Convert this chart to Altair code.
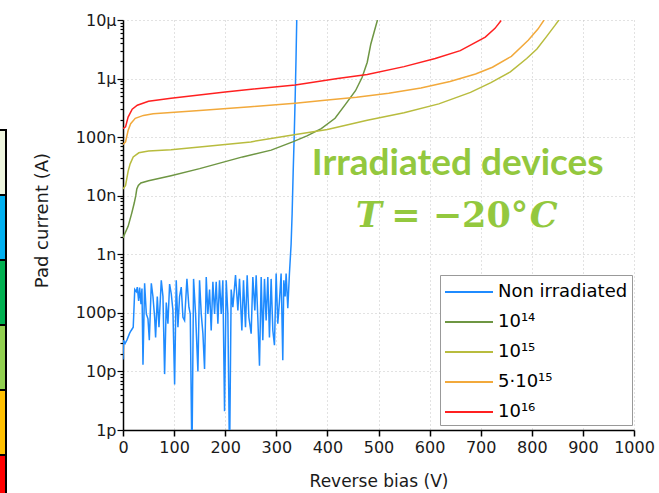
import altair as alt
import pandas as pd

# ---------------- data ----------------
series_names = ["Non irradiated", "10¹⁴", "10¹⁵", "5·10¹⁵", "10¹⁶"]
series_colors = ["#1F8BFF", "#6E9643", "#B8BC3E", "#F2A93B", "#FF2020"]

non_irradiated = [
    (0, 1.6e-11), (1, 3.4e-11), (4, 3.0e-11), (8, 3.5e-11), (13, 4.5e-11), (16, 5.0e-11),
    (20, 5.7e-11), (23, 2.5e-10), (26, 2.3e-10), (28, 2.75e-10), (30.6, 1.6e-10),
    (32.6, 2.7e-10), (35.2, 1.4e-10), (37.1, 2.6e-10), (39.1, 1.3e-11), (42.3, 3.2e-10),
    (45.6, 9.6e-11), (48.9, 7.9e-11), (51.5, 3.4e-11), (55.4, 3.2e-10), (58.6, 1.9e-10),
    (61.9, 8.4e-11), (63.8, 3.8e-11), (67.1, 1.9e-10), (70.4, 5.7e-11), (74.9, 3.6e-10),
    (78.2, 1.9e-10), (81.4, 9e-12), (84.7, 1.5e-10), (87.9, 6.5e-11), (91.2, 3.1e-10),
    (94.5, 2.1e-10), (97.7, 1.1e-10), (101, 6e-12), (104.2, 3.6e-10), (107.5, 5.7e-11),
    (110.7, 1.9e-10), (114, 2.75e-10), (117.3, 8.4e-11), (120.5, 7.4e-11), (125.1, 3.8e-10),
    (129, 1.25e-10), (131.6, 9.6e-11), (134.9, 3e-13), (138.1, 3.8e-10), (142, 9.6e-11),
    (146.6, 1e-11), (149.8, 3.6e-10), (153.1, 9.6e-11), (156.4, 4.4e-11), (159.6, 1.1e-11),
    (162.9, 4.1e-10), (166.1, 9.6e-11), (169.4, 2.5e-10), (172.6, 5e-11), (175.9, 3.4e-10),
    (179.2, 9.6e-11), (182.4, 3.4e-10), (185.7, 6.5e-11), (188.9, 3.6e-10), (192.2, 9.6e-11),
    (195.4, 3.6e-10), (198.7, 2.1e-12), (202, 3.6e-10), (205.2, 9.6e-11), (208.5, 3e-13),
    (211.7, 2.5e-10), (215, 1.25e-10), (220.2, 4.4e-10), (224.8, 1.1e-10), (228, 3.8e-10),
    (232.6, 5e-11), (235.8, 3.6e-10), (239.7, 5.7e-11), (243, 4.4e-10), (246.3, 8.4e-11),
    (250.8, 4.4e-11), (254.1, 4.1e-10), (258, 1.1e-10), (260.6, 4.4e-10), (263.8, 8.4e-11),
    (267.1, 1.25e-11), (270.4, 4.1e-10), (273.6, 3.4e-11), (276.9, 3.8e-10), (280.1, 7.4e-11),
    (283.4, 4.1e-10), (286.6, 3.8e-11), (289.9, 3.8e-10), (293.2, 5e-11), (296.4, 2.8e-11),
    (299.7, 4.7e-10), (302.9, 6.5e-11), (306.2, 1.6e-10), (309.4, 4.7e-10), (312.7, 1.56e-11),
    (314.7, 3.6e-10), (317.3, 1.9e-10), (319.2, 4.7e-10), (322.5, 1.2e-10), (325.7, 4.7e-10),
    (329, 1.5e-9), (331, 5e-9), (333, 2.5e-8), (335, 1e-7), (337, 5e-7), (338.5, 2e-6),
    (340, 1e-5),
]

fluence_1e14 = [
    (0, 1.9e-9), (2, 2.1e-9), (10, 3.0e-9), (17, 5.0e-9), (22, 7.5e-9), (25, 1.0e-8),
    (27, 1.3e-8), (30, 1.5e-8), (35, 1.65e-8), (50, 1.8e-8), (94, 2.2e-8), (150, 2.9e-8),
    (234, 4.6e-8), (290, 6.0e-8), (332, 8.3e-8), (360, 1.05e-7), (388, 1.4e-7),
    (415, 2.1e-7), (436, 3.7e-7), (455, 6.2e-7), (468, 1.05e-6), (478, 1.9e-6),
    (485, 3.9e-6), (492, 6.5e-6), (498, 1.0e-5),
]

fluence_1e15 = [
    (0, 1.3e-8), (5, 1.5e-8), (10, 2.6e-8), (14, 3.5e-8), (20, 4.6e-8), (31, 5.4e-8),
    (50, 5.8e-8), (94, 6.1e-8), (150, 6.8e-8), (250, 8.3e-8), (335, 1.1e-7), (400, 1.35e-7),
    (478, 1.94e-7), (550, 2.6e-7), (618, 3.7e-7), (680, 5.8e-7), (720, 8.5e-7),
    (758, 1.3e-6), (790, 2.2e-6), (810, 3.2e-6), (828, 5.1e-6), (845, 8e-6), (853, 1e-5),
]

fluence_5e15 = [
    (0, 7.5e-8), (5, 8.3e-8), (10, 1.3e-7), (15, 1.7e-7), (24, 2.1e-7), (40, 2.35e-7),
    (59, 2.5e-7), (150, 2.85e-7), (250, 3.3e-7), (337, 3.8e-7), (400, 4.3e-7),
    (457, 4.8e-7), (520, 5.6e-7), (583, 6.9e-7), (640, 8.9e-7), (690, 1.2e-6),
    (723, 1.56e-6), (760, 2.4e-6), (793, 4.5e-6), (812, 7e-6), (824, 1e-5),
]

fluence_1e16 = [
    (0, 1.4e-7), (5, 1.5e-7), (10, 2.2e-7), (18, 3.0e-7), (28, 3.5e-7), (50, 4.1e-7),
    (94, 4.6e-7), (200, 5.9e-7), (337, 7.8e-7), (420, 1.0e-6), (478, 1.17e-6),
    (550, 1.6e-6), (611, 2.2e-6), (660, 3.0e-6), (709, 5.1e-6), (728, 7.2e-6), (740, 9.8e-6),
]

x_tick_values = list(range(0, 1001, 50))
y_tick_values = [m * 10.0 ** e for e in range(-12, -5) for m in range(1, 10)] + [1e-5]

strip_colors = ["#EEF5DE", "#00B0F0", "#00B050", "#92D050", "#FFC000", "#FF0000"]

# ---------------- build table ----------------
rows = []
for name, pts in zip(series_names,
                     [non_irradiated, fluence_1e14, fluence_1e15, fluence_5e15, fluence_1e16]):
    for i, (v, c) in enumerate(pts):
        rows.append({"series": name, "V": v, "I": c, "idx": i})
df = pd.DataFrame(rows)

FONT = "DejaVu Sans"
TXT = "#1a1a1a"
GREEN = "#93C83E"

decade_test = "abs(log(datum.value)/LN10 - round(log(datum.value)/LN10)) < 1e-6"
hundred_test = "datum.value % 100 === 0"

x_axis = alt.Axis(
    values=x_tick_values,
    title="Reverse bias (V)",
    labelExpr=f"{hundred_test} ? format(datum.value, 'd') : ''",
    tickSize={"condition": {"test": hundred_test, "value": 6}, "value": 4},
    grid=True,
    gridColor="#c4c4c4",
    gridDash=[1, 3],
    gridOpacity={"condition": {"test": hundred_test, "value": 1}, "value": 0},
    domainColor="black", domainWidth=1.5,
    tickColor="black", tickWidth=1.5,
    labelFont=FONT, labelFontSize=16, labelColor=TXT, labelPadding=3,
    labelFlush=False, labelOverlap=False,
    titleFont=FONT, titleFontSize=17, titleFontWeight="normal", titleColor=TXT,
    titleY=51, titleBaseline="middle",
)

y_axis = alt.Axis(
    values=y_tick_values,
    title="Pad current (A)",
    labelExpr=f"{decade_test} ? format(datum.value, '~s') : ''",
    tickSize={"condition": {"test": decade_test, "value": 6}, "value": 3},
    grid=True,
    gridColor="#c4c4c4",
    gridDash=[1, 3],
    gridOpacity={"condition": {"test": decade_test, "value": 1}, "value": 0},
    domainColor="black", domainWidth=1.5,
    tickColor="black", tickWidth=1.2,
    labelFont=FONT, labelFontSize=16, labelColor=TXT, labelPadding=1,
    labelFlush=False, labelOverlap=False,
    titleFont=FONT, titleFontSize=18, titleFontWeight="normal", titleColor=TXT,
    titleX=-81, titleY=200, titleBaseline="middle", titleAlign="center",
)

# a wide horizontal stroke drawn with a small symbol size keeps the rows compact
legend = alt.Legend(
    title=None, orient="none", legendX=317, legendY=255,
    symbolType="M-2,0H2", symbolSize=576, symbolStrokeWidth=2, symbolOffset=12,
    labelFont=FONT, labelFontSize=18, labelColor="black", labelOffset=16, labelLimit=300,
    strokeColor="#999999", fillColor="white", padding=4, rowPadding=8,
)

lines = alt.Chart(df).mark_line(strokeWidth=1.5, clip=True).encode(
    x=alt.X("V:Q", scale=alt.Scale(domain=[0, 1000], nice=False, zero=False), axis=x_axis),
    y=alt.Y("I:Q", scale=alt.Scale(type="log", domain=[1e-12, 1e-5], nice=False), axis=y_axis),
    color=alt.Color("series:N", scale=alt.Scale(domain=series_names, range=series_colors),
                    sort=series_names, legend=legend),
    order=alt.Order("idx:Q"),
)

one = alt.Data(values=[{}])
label1 = alt.Chart(one).mark_text(
    text="Irradiated devices", font="Lato", fontWeight="bold", fontSize=37,
    color=GREEN, align="center", baseline="alphabetic",
).encode(x=alt.datum(655), y=alt.datum(2.26e-8))

label2_mid = alt.Chart(one).mark_text(
    text="= −20°", font="DejaVu Serif", fontWeight="bold", fontSize=35,
    color=GREEN, align="center", baseline="alphabetic", dx=2,
).encode(x=alt.datum(655), y=alt.datum(2.94e-9))
label2_T = alt.Chart(one).mark_text(
    text="T", font="DejaVu Serif", fontWeight="bold", fontStyle="italic", fontSize=35,
    color=GREEN, align="right", baseline="alphabetic", dx=-76,
).encode(x=alt.datum(655), y=alt.datum(2.94e-9))
label2_C = alt.Chart(one).mark_text(
    text="C", font="DejaVu Serif", fontWeight="bold", fontStyle="italic", fontSize=35,
    color=GREEN, align="left", baseline="alphabetic", dx=72,
).encode(x=alt.datum(655), y=alt.datum(2.94e-9))

# decorative strip at the left edge (part of the slide behind the plot)
strip_layers = []
for k, col in enumerate(strip_colors):
    strip_layers.append(
        alt.Chart(one).mark_rect(fill=col, stroke="black", strokeWidth=2).encode(
            x=alt.value(-124), x2=alt.value(-117),
            y=alt.value(110 + 65 * k), y2=alt.value(175 + 65 * k),
        )
    )

chart = alt.layer(
    *strip_layers, lines, label1, label2_T, label2_mid, label2_C
).properties(
    width=511, height=410,
    autosize=alt.AutoSizeParams(type="none"),
    padding={"left": 123, "top": 20, "right": 25, "bottom": 63},
).configure_view(strokeWidth=0)

chart.save("out.html", embed_options={"renderer": "svg", "actions": False})
